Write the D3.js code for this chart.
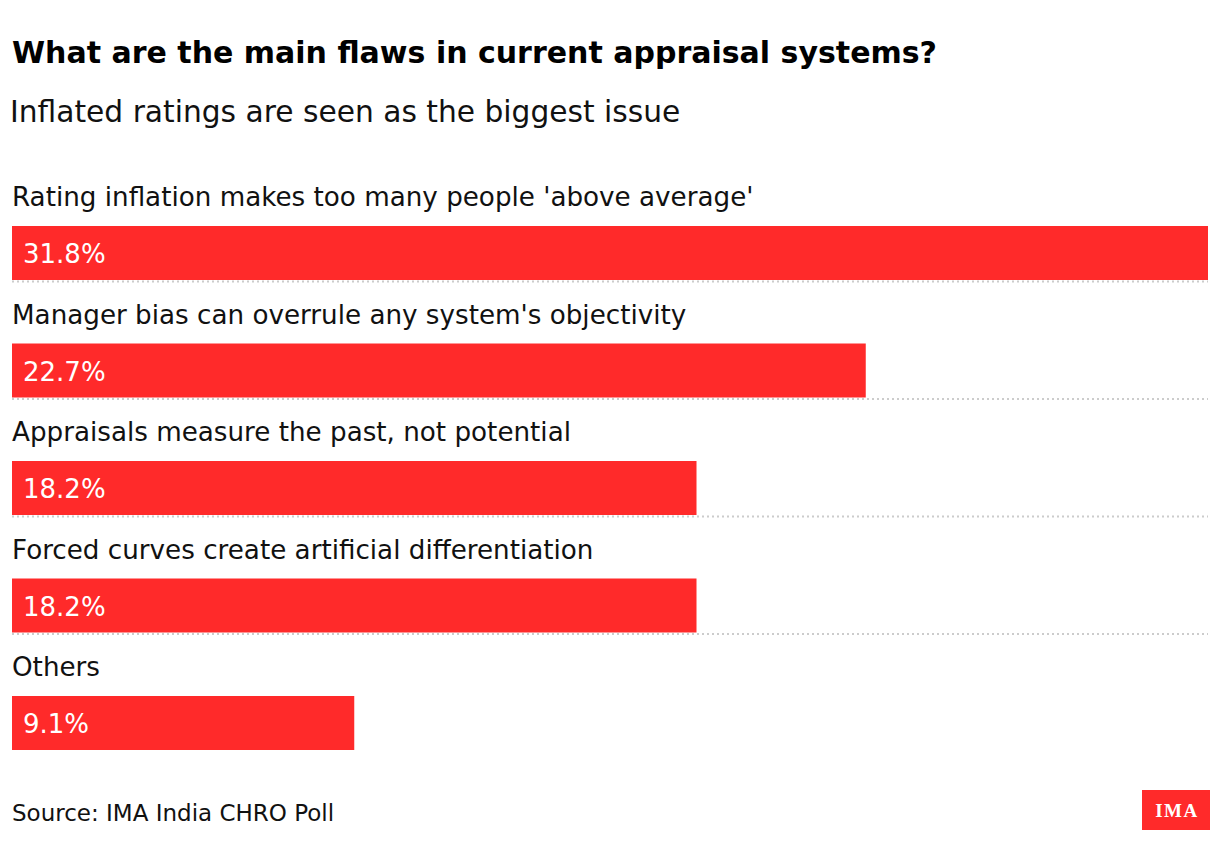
<!DOCTYPE html>
<html><head><meta charset="utf-8">
<script src="https://cdn.jsdelivr.net/npm/d3@7"></script>
<style>
html,body{margin:0;padding:0;background:#fff;}
svg{display:block;}
</style></head>
<body>
<svg id="chart" width="1220" height="864"></svg>
<script>
const categories = [
  "Rating inflation makes too many people 'above average'",
  "Manager bias can overrule any system's objectivity",
  "Appraisals measure the past, not potential",
  "Forced curves create artificial differentiation",
  "Others"
];
const values = [31.8, 22.7, 18.2, 18.2, 9.1];
const title = "What are the main flaws in current appraisal systems?";
const subtitle = "Inflated ratings are seen as the biggest issue";
const source = "Source: IMA India CHRO Poll";

const SANS = "'DejaVu Sans', 'Liberation Sans', sans-serif";
const svg = d3.select("#chart");
const left = 12, right = 1208;
const firstTop = 226, step = 117.5, barH = 54;

const x = d3.scaleLinear().domain([0, d3.max(values)]).range([left, right]);
const y = d3.scaleBand().domain(categories)
  .range([firstTop - (step - barH) , firstTop - (step - barH) + step * categories.length])
  .paddingInner(0).paddingOuter(0);

svg.append("text").attr("x", 12).attr("y", 63)
  .style("font-family", SANS)
  .attr("font-size", 30).attr("font-weight", "bold").attr("fill", "#000").text(title);
svg.append("text").attr("x", 10).attr("y", 122)
  .style("font-family", SANS)
  .attr("font-size", 29.7).attr("fill", "#111").text(subtitle);

const rows = svg.selectAll("g.row").data(categories).enter().append("g").attr("class", "row");

rows.append("text")
  .attr("x", 12)
  .attr("y", d => y(d) + (step - barH) - 20)
  .style("font-family", SANS)
  .attr("font-size", 26.2).attr("fill", "#111")
  .text(d => d);

rows.append("rect")
  .attr("x", x(0))
  .attr("y", d => y(d) + (step - barH))
  .attr("width", (d, i) => x(values[i]) - x(0))
  .attr("height", barH)
  .attr("fill", "#ff2a2a");

rows.append("text")
  .attr("x", 23)
  .attr("y", d => y(d) + (step - barH) + 37)
  .style("font-family", SANS)
  .attr("font-size", 26).attr("fill", "#fff")
  .text((d, i) => values[i].toFixed(1) + "%");

rows.filter((d, i) => i < categories.length - 1)
  .append("line")
  .attr("x1", left).attr("x2", right)
  .attr("y1", d => y(d) + step + 1.5).attr("y2", d => y(d) + step + 1.5)
  .attr("stroke", "#cccccc").attr("stroke-width", 2)
  .attr("stroke-dasharray", "2,3");

svg.append("text").attr("x", 12).attr("y", 821)
  .style("font-family", SANS)
  .attr("font-size", 23).attr("fill", "#111").text(source);

svg.append("rect").attr("x", 1142).attr("y", 790).attr("width", 68).attr("height", 40).attr("fill", "#ff2a2a");
svg.append("text").attr("x", 1177).attr("y", 817).attr("text-anchor", "middle")
  .style("font-family", "'Liberation Serif','DejaVu Serif',serif")
  .attr("font-size", 19).attr("font-weight", "bold").attr("fill", "#fff")
  .attr("letter-spacing", 1.5).text("IMA");
</script>
</body></html>
